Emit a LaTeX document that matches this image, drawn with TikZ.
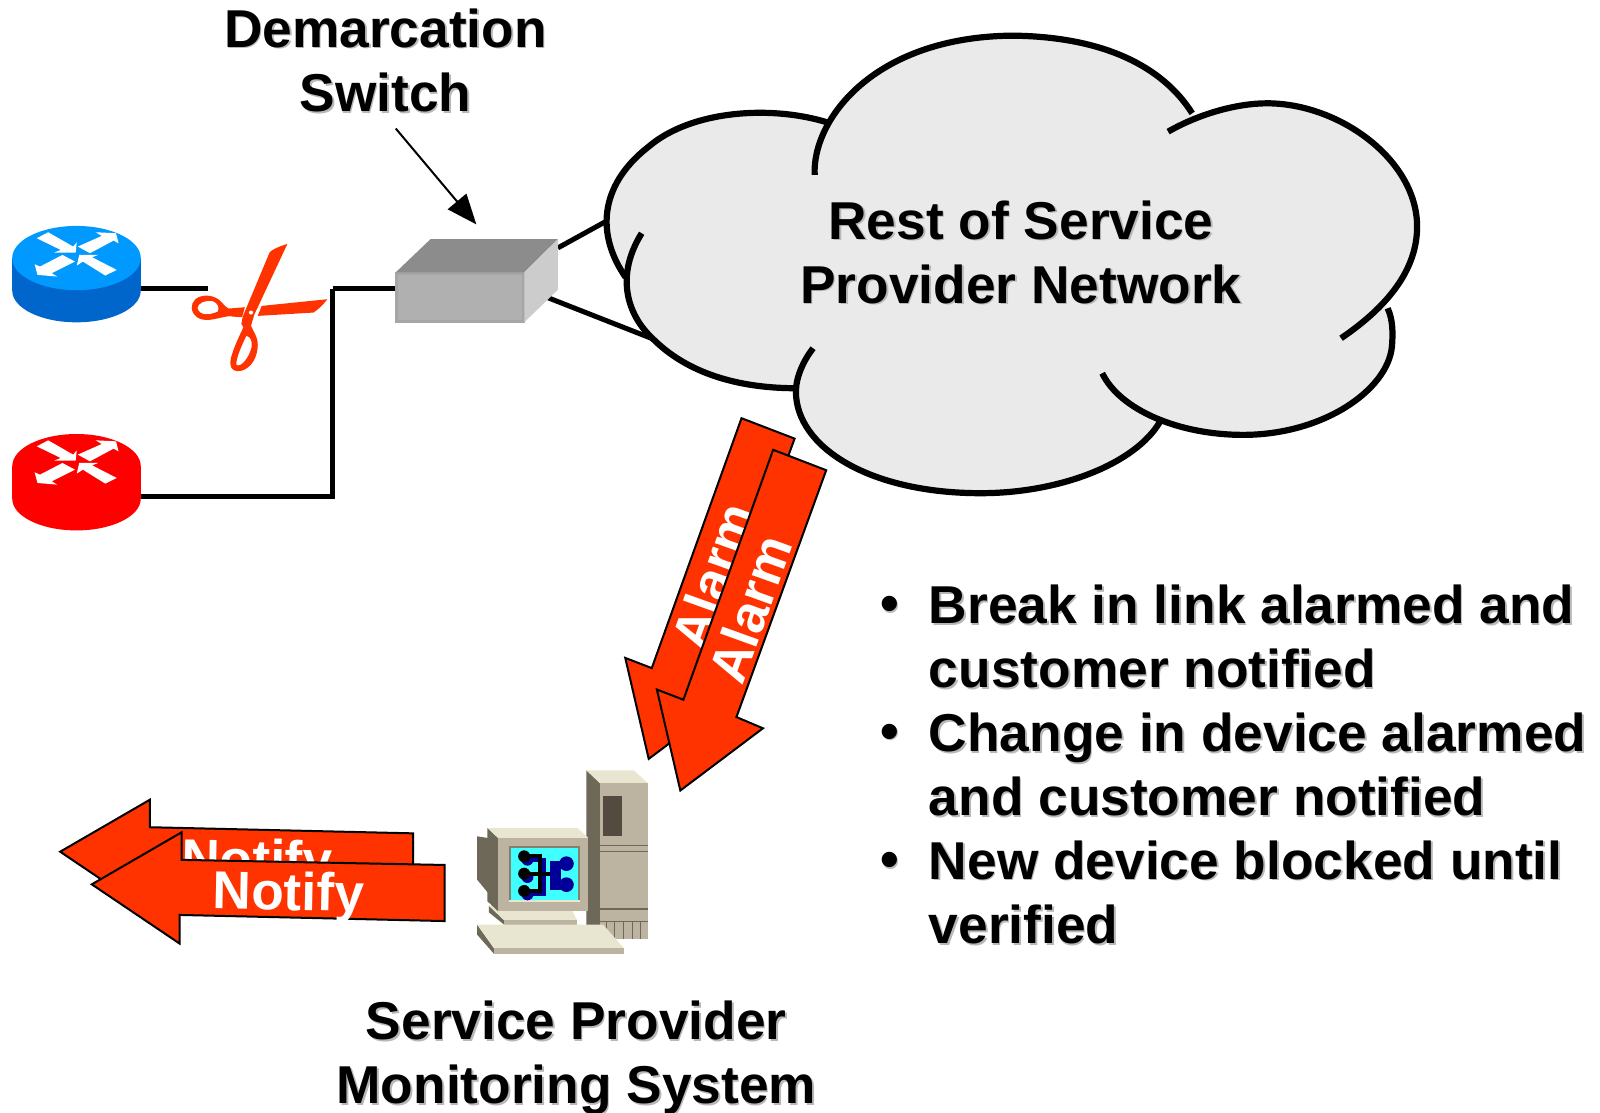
\documentclass[tikz,border=0pt]{standalone}
\usepackage{fontspec}
\setmainfont{Liberation Sans}
\usetikzlibrary{arrows.meta}
\definecolor{alertred}{HTML}{FF3300}
\definecolor{cloudgray}{HTML}{EAEAEA}
\definecolor{bluetop}{HTML}{0099FF}
\definecolor{blueside}{HTML}{0066CC}
\definecolor{casefront}{HTML}{BCB4A0}
\definecolor{caselight}{HTML}{E8E5D0}
\definecolor{casedark}{HTML}{6E6858}
\definecolor{caseslot}{HTML}{544B40}
\definecolor{screencyan}{HTML}{40FFFF}
\definecolor{icondark}{HTML}{000099}
\def\sh#1{\leavevmode\rlap{\kern0.45pt\raisebox{-0.45pt}{\textcolor{black!28}{#1}}}#1}
\def\routerbody#1#2#3{
	\fill[#2] (12,#1) -- (12,#1+32) arc (180:0:63 and 31) -- (138,#1) -- cycle;
	\fill[#3] (75,#1) circle [x radius=63, y radius=31.5];
}
\def\routermarks#1{
	\begin{scope}[shift={(0,#1)},xscale=.35,yscale=.3267]
		\fill[white] (135,97) -- (205,140) -- (215,127) -- (212,158) -- (152,158) -- (170,150) -- (103,115) -- cycle;
		\fill[white] (218,140) -- (285,108) -- (268,97) -- (325,100) -- (332,130) -- (318,122) -- (252,160) -- cycle;
		\fill[white] (175,165) -- (210,185) -- (145,220) -- (160,230) -- (105,225) -- (97,193) -- (112,200) -- cycle;
		\fill[white] (215,197) -- (222,165) -- (275,165) -- (258,172) -- (327,210) -- (295,227) -- (232,185) -- cycle;
	\end{scope}
}
\tikzset{
	x=0.0102cm, y=-0.0102cm,
	link/.style={line width=0.5mm, color=black},
	cloudline/.style={line width=0.62mm, color=black, line cap=butt},
	redarrow/.style={draw=black, line width=0.2mm, fill=alertred, line join=miter},
	label/.style={inner sep=0pt, align=center, font=\fontsize{15.15}{18.3}\selectfont\bfseries},
	listlabel/.style={label, align=left, anchor=west},
	whitelabel/.style={label, text=white},
}
\def\lobeA{(67,772) .. controls (14,650) and (14,500) .. (110,380) .. controls (190,270) and (340,255) .. (445,308)}
\def\lobeB{(420,465) .. controls (415,300) and (530,50) .. (790,47) .. controls (960,50) and (1070,140) .. (1125,280)}
\def\lobeC{(1080,335) .. controls (1140,280) and (1210,250) .. (1265,250) .. controls (1400,250) and (1545,420) .. (1545,620) .. controls (1545,750) and (1490,860) .. (1403,955)}
\def\lobeD{(1490,865) .. controls (1500,900) and (1500,940) .. (1498,980) .. controls (1490,1110) and (1370,1245) .. (1220,1245) .. controls (1100,1245) and (990,1170) .. (957,1060)}
\def\lobeE{(1065,1205) .. controls (1020,1330) and (880,1420) .. (730,1420) .. controls (520,1420) and (385,1280) .. (385,1115) .. controls (385,1070) and (400,1020) .. (417,985)}
\def\lobeF{(97,640) .. controls (50,760) and (65,880) .. (120,960) .. controls (190,1070) and (290,1105) .. (385,1105)}

\begin{document}
\begin{tikzpicture}
		%%%%% START %%%%%
		\useasboundingbox (0,0) rectangle (1568.63,1091.18);
		
		\coordinate (blueport) at (136,283);
		\coordinate (redport) at (136,487);
		\coordinate (cutleft) at (204,283);
		\coordinate (cutright) at (326,283);
		\coordinate (joint) at (326,487);
		\coordinate (switchback) at (547,243);
		\coordinate (switchbelow) at (535,291);
		\coordinate (cloudupper) at (596,216);
		\coordinate (cloudlower) at (642,333);
		\coordinate (demarctail) at (388,126);
		\coordinate (switchtop) at (467,220);
		
		\draw[link] (blueport) -- (cutleft);
		\draw[link] (redport) -- (joint) -- (cutright);
		\draw[link] (switchback) -- (cloudupper);
		\draw[link] (switchbelow) -- (cloudlower);
		
		\routerbody{253}{blueside}{bluetop}
		\routermarks{196}
		\routerbody{457}{red}{red}
		\routermarks{400}
		
		\node[fill=black!31, draw=black!35, line width=0.3mm, minimum width=1.26cm, minimum height=0.48cm, inner sep=0pt] (switch) at (451,291.5) {};
		\draw[link] (cutright) -- (cutright -| switch.west);
		\fill[black!45] (388,267) -- (422,234.5) -- (547,234.5) -- (514,267) -- cycle;
		\fill[black!20] (514,267) -- (547,234.5) -- (547,284) -- (514,316) -- cycle;
		
		\node[label] (demarc) at (378,60) {\sh{Demarcation}\\[0pt]\sh{Switch}};
		\draw[line width=0.2mm, -{Triangle[length=3mm, width=2.4mm]}] (demarctail) -- (switchtop);
		
		\begin{scope}[shift={(578.2,19.6)},xscale=.525,yscale=.3267]
			\fill[cloudgray] (67,772) -- (445,308) -- (1125,280) -- (1490,865) -- (1065,1205) -- (385,1105) -- cycle;
			\foreach \lobe in {\lobeA,\lobeB,\lobeC,\lobeD,\lobeE,\lobeF}
				\fill[cloudgray] \lobe -- cycle;
			\foreach \lobe in {\lobeA,\lobeB,\lobeC,\lobeD,\lobeE,\lobeF}
				\draw[cloudline] \lobe;
		\end{scope}
		\node[label] (cloud) at (1001,248) {\sh{Rest of Service}\\\sh{Provider Network}};
		
		\begin{scope}[shift={(0,196)},xscale=.35,yscale=.3267]
			\fill[alertred, even odd rule] (805,132) .. controls (780,140) and (760,150) .. (755,158) -- (680,350) -- (676,372) -- (682,382) .. controls (660,430) and (645,470) .. (645,490) .. controls (645,510) and (660,517) .. (675,513) .. controls (705,505) and (722,470) .. (722,435) .. controls (722,410) and (710,395) .. (703,378) -- (712,345) -- cycle
				(690,408) .. controls (675,440) and (660,480) .. (662,495) .. controls (675,505) and (700,470) .. (705,440) .. controls (707,420) and (700,410) .. (690,408) -- cycle;
			\fill[alertred, even odd rule] (686,322) -- (640,326) .. controls (625,320) and (620,290) .. (580,287) .. controls (550,287) and (536,305) .. (537,325) .. controls (540,350) and (560,362) .. (585,360) .. controls (610,358) and (640,345) .. (650,350) -- (678,352) -- cycle
				(553,325) .. controls (553,310) and (575,300) .. (595,303) .. controls (612,310) and (615,325) .. (610,335) .. controls (590,345) and (560,350) .. (553,325) -- cycle;
			\fill[alertred] (917,298) .. controls (905,315) and (890,330) .. (878,338) -- (722,348) -- (733,318) -- cycle;
			\fill[white] (703,338) circle (6);
		\end{scope}
		
		\draw[redarrow] (727,410) -- (779,430) -- (691,672) -- (717,683) -- (636,744) -- (613,645) -- (639,655) -- cycle;
		\node[whitelabel, rotate=70.2] (alarmback) at (699,565) {Alarm};
		\draw[redarrow] (758,441) -- (810,461) -- (722,703) -- (748,714) -- (667,775) -- (644,676) -- (670,686) -- cycle;
		\node[whitelabel, rotate=70.2] (alarmfront) at (735,597) {Alarm};
		
		\draw[redarrow] (59,835) -- (147,784) -- (147,811) -- (405,817) -- (405,871) -- (145,865) -- (145,893) -- cycle;
		\node[whitelabel, rotate=-1.1] (notifyback) at (252,847) {Notify};
		\draw[redarrow] (90,867) -- (178,816) -- (178,843) -- (436,848) -- (436,903) -- (176,897) -- (176,925) -- cycle;
		\node[whitelabel, rotate=-1.1] (notifyfront) at (283,879) {Notify};
		
		\begin{scope}[shift={(431.2,715.4)},scale=.3267]
			\fill[casedark] (440,122) -- (480,160) -- (480,586) -- (440,586) -- cycle;
			\fill[caselight] (440,122) -- (582,122) -- (624,160) -- (480,160) -- cycle;
			\fill[casefront] (480,160) rectangle (624,627);
			\fill[caseslot] (491,200) rectangle (546,320);
			\draw[casedark, line width=0.15mm] (480,348) -- (624,348) (480,366) -- (624,366) (480,538) -- (624,538) (480,575) -- (624,575);
			\foreach \x in {500,525,550,577,603}
				\draw[casedark, line width=0.1mm] (\x,575) -- (\x,627);
			\fill[casedark] (147,528) -- (193,572) -- (193,585) -- (147,548) -- cycle;
			\fill[caselight] (147,528) -- (390,528) -- (412,572) -- (193,572) -- cycle;
			\fill[casefront] (193,572) rectangle (412,585);
			\fill[casedark] (112,320) -- (145,325) -- (145,490) -- (112,450) -- cycle;
			\fill[casedark] (143,295) -- (175,325) -- (175,545) -- (143,515) -- cycle;
			\fill[caselight] (143,295) -- (413,295) -- (446,325) -- (175,325) -- cycle;
			\fill[casefront] (175,325) rectangle (446,545);
			\fill[casedark!70!casefront] (208,350) rectangle (420,518);
			\fill[caselight] (208,510) rectangle (420,518);
			\fill[screencyan] (215,354) rectangle (415,510);
			\fill[icondark] (330,395) rectangle (365,480);
			\foreach \y in {402,465}
				\fill[icondark] (380,\y) circle (22);
			\foreach \y in {390,442,494}
				\fill[icondark] (263,\y) circle (18);
			\draw[icondark, line width=0.4mm] (270,390) -- (312,390) -- (312,494) -- (270,494);
			\foreach \y in {380,432,484}
				\fill[black] (253,\y) circle (18);
			\draw[black, line width=0.4mm] (253,380) -- (300,380) -- (300,484) -- (253,484) (253,432) -- (330,432);
			\fill[casedark] (112,585) -- (162,655) -- (162,672) -- (112,615) -- cycle;
			\fill[caselight] (112,585) -- (490,585) -- (552,655) -- (162,655) -- cycle;
			\fill[casefront] (162,655) rectangle (552,672);
		\end{scope}
		
		\node[label] (monitor) at (565,1038) {\sh{Service Provider}\\\sh{Monitoring System}};
		
		\node[label] (bulletone) at (872,598) {\sh{•}};
		\node[label] (bullettwo) at (872,723) {\sh{•}};
		\node[label] (bulletthree) at (872,849) {\sh{•}};
		\node[listlabel] (itemone) at (910,625) {\sh{Break in link alarmed and}\\\sh{customer notified}};
		\node[listlabel] (itemtwo) at (910,750.5) {\sh{Change in device alarmed}\\\sh{and customer notified}};
		\node[listlabel] (itemthree) at (910,875.5) {\sh{New device blocked until}\\\sh{verified}};
		
		%%%%% END %%%%%
	\end{tikzpicture}
\end{document}
